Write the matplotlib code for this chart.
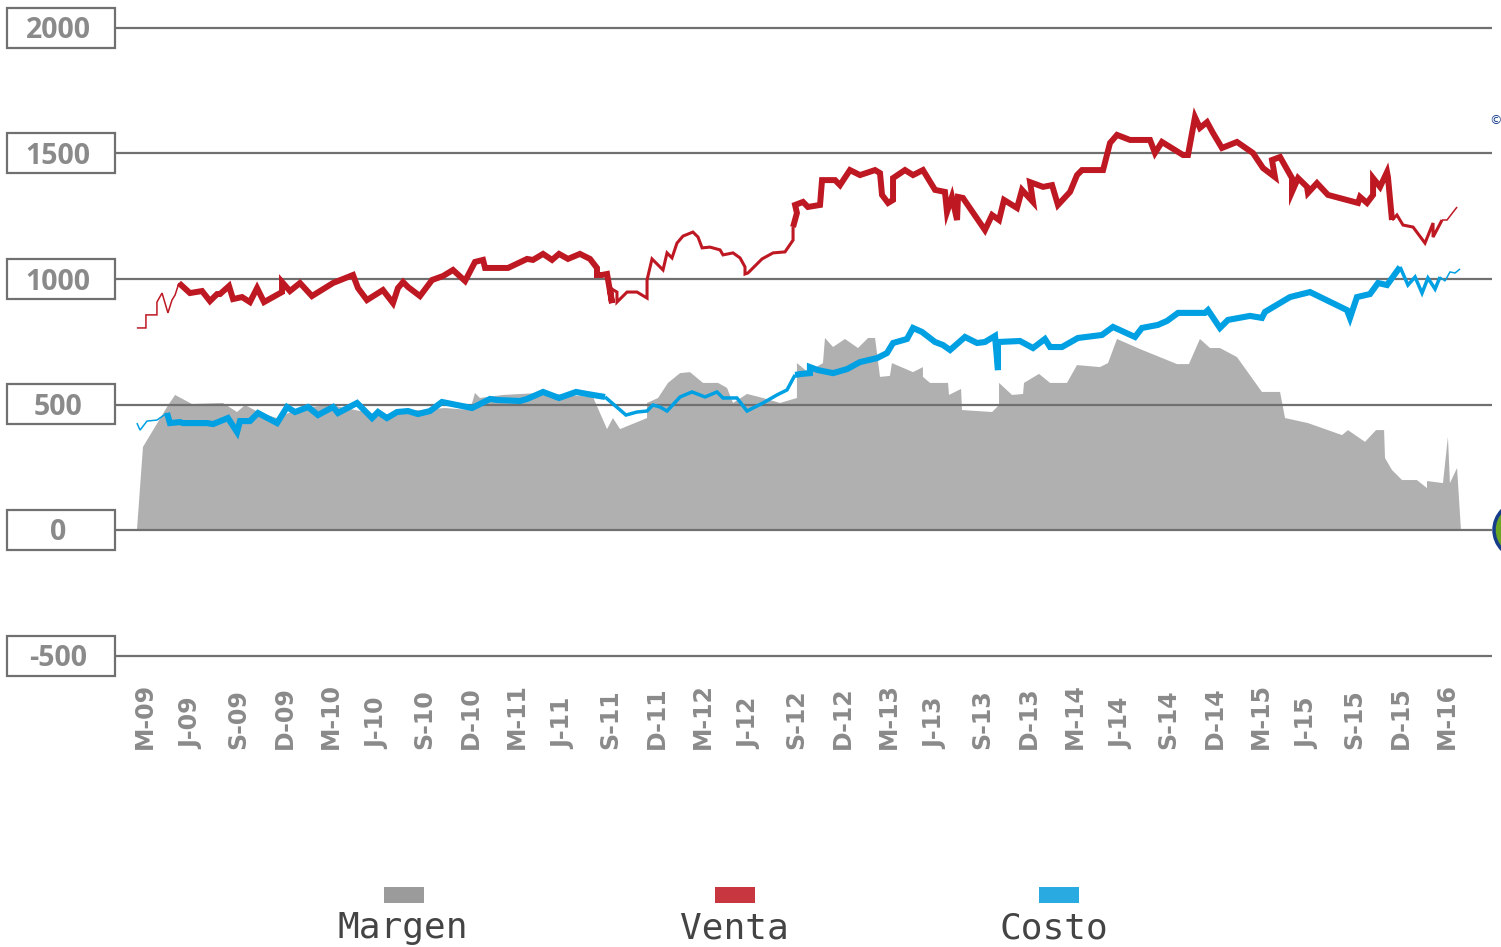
import matplotlib
matplotlib.use("Agg")
import matplotlib.pyplot as plt
from matplotlib.patches import Rectangle, Circle
from matplotlib.transforms import blended_transform_factory, IdentityTransform

# ---------------- data (t = months since March 2009) ----------------
venta_t = [-0.52, 0.06, 0.06, 0.77, 0.77, 1.10, 1.48, 1.74, 1.94, 2.19, 2.90, 3.68, 4.19, 4.65, 4.84,
           5.42, 5.68, 6.26, 6.77, 7.23, 7.68, 8.84, 8.84, 9.35, 10.0, 10.77, 12.13, 13.42, 13.74,
           14.32, 15.35, 16.0, 16.32, 16.65, 16.97, 17.74, 18.52, 19.23, 19.87, 20.65, 21.29, 21.81,
           21.94, 23.42, 24.65, 25.03, 25.68, 26.26, 26.71, 27.29, 28.06, 28.71, 29.16, 29.16, 29.48,
           29.81, 30.13, 30.0, 30.45, 30.45, 31.10, 31.74, 32.39, 32.39, 32.71, 33.42, 33.68, 34.0,
           34.32, 34.71, 35.35, 35.68, 35.94, 36.45, 37.10, 37.29, 37.94, 38.39, 38.71, 38.71, 38.90,
           39.81, 40.52, 41.29, 41.81, 41.81, 42.06, 41.94, 42.45, 42.77, 43.55, 43.68, 44.52, 44.84,
           45.48, 46.13, 47.10, 47.42, 47.55, 47.94, 48.26, 48.26, 49.03, 49.55, 50.19, 50.97, 51.61,
           51.74, 52.06, 52.39, 52.45, 52.77, 54.19, 54.65, 55.10, 55.42, 56.26, 56.58, 57.29, 57.10,
           57.94, 58.52, 58.90, 59.68, 60.13, 60.45, 61.81, 62.26, 62.71, 63.55, 64.84, 65.16, 65.61,
           66.97, 67.29, 67.74, 68.06, 68.52, 68.90, 69.48, 70.45, 71.48, 72.13, 72.90, 72.71, 73.23,
           74.0, 74.0, 74.39, 74.97, 75.03, 75.61, 76.32, 78.26, 78.39, 78.84, 79.23, 79.23, 79.68,
           80.13, 80.19, 80.45, 80.77, 81.16, 81.81, 82.58, 83.10, 83.10, 83.68, 84.0, 84.65]
venta_v = [805, 805, 857, 857, 908, 944, 865, 916, 936, 984, 944, 952, 912, 940, 940,
           972, 920, 928, 908, 964, 908, 948, 988, 952, 984, 932, 984, 1016, 964,
           916, 956, 904, 964, 988, 968, 932, 996, 1012, 1036, 992, 1068, 1076,
           1044, 1044, 1080, 1076, 1100, 1076, 1100, 1080, 1100, 1080, 1044, 1016, 1016,
           1020, 904, 964, 948, 908, 948, 948, 924, 996, 1080, 1036, 1104, 1084,
           1143, 1171, 1187, 1167, 1124, 1127, 1116, 1096, 1104, 1084, 1048, 1020, 1024,
           1080, 1104, 1108, 1155, 1207, 1263, 1295, 1307, 1287, 1295, 1394, 1394, 1374,
           1434, 1414, 1434, 1422, 1335, 1303, 1315, 1402, 1434, 1414, 1434, 1355, 1347,
           1267, 1327, 1235, 1327, 1323, 1195, 1255, 1235, 1315, 1283, 1355, 1307, 1386,
           1367, 1374, 1295, 1347, 1414, 1434, 1434, 1542, 1574, 1554, 1554, 1502, 1546,
           1494, 1494, 1645, 1602, 1625, 1582, 1522, 1546, 1502, 1442, 1406, 1474, 1486,
           1402, 1347, 1402, 1367, 1343, 1382, 1335, 1303, 1327, 1303, 1335, 1402, 1367,
           1426, 1406, 1235, 1255, 1215, 1207, 1143, 1223, 1167, 1235, 1235, 1287]

costo_t = [-0.52, -0.32, 0.13, 0.77, 1.42, 1.61, 2.26, 2.45, 4.0, 4.39, 5.35, 5.94, 6.13, 6.77,
           7.29, 8.52, 9.16, 9.68, 10.52, 11.16, 12.13, 12.45, 13.68, 14.65, 15.03, 15.61, 16.26,
           16.97, 17.61, 18.39, 19.16, 21.10, 22.26, 22.71, 24.19, 24.65, 25.68, 26.71, 27.81,
           28.52, 29.68, 31.03, 31.74, 32.39, 32.77, 33.23, 33.68, 34.52, 35.29, 36.13, 36.90,
           37.29, 38.19, 38.84, 39.87, 40.77, 41.42, 41.94, 42.39, 42.90, 42.90, 43.42, 44.39,
           45.29, 46.13, 47.23, 47.87, 48.26, 49.16, 49.55, 50.13, 50.97, 51.48, 51.94, 52.90,
           53.68, 54.19, 54.84, 55.03, 55.03, 56.45, 57.29, 58.06, 58.39, 59.16, 60.19, 61.74,
           62.45, 63.87, 64.32, 65.35, 65.94, 66.65, 68.39, 68.58, 69.35, 69.87, 71.29, 72.06,
           72.26, 73.87, 75.16, 77.55, 77.74, 78.19, 79.03, 79.55, 80.13, 80.97, 81.48, 81.94,
           82.39, 82.77, 83.23, 83.55, 83.87, 84.19, 84.52, 84.84]
costo_v = [426, 398, 434, 438, 466, 426, 430, 426, 426, 422, 446, 390, 434, 434,
           466, 426, 490, 470, 490, 458, 490, 466, 506, 446, 470, 446, 470,
           474, 462, 474, 510, 486, 522, 518, 514, 522, 550, 526, 550,
           542, 530, 458, 470, 474, 498, 490, 474, 530, 550, 530, 550,
           526, 526, 474, 506, 538, 558, 618, 622, 625, 649, 637, 625,
           641, 669, 685, 705, 745, 761, 805, 789, 749, 737, 717, 769,
           745, 749, 773, 637, 749, 753, 725, 761, 729, 729, 765, 777,
           809, 769, 805, 817, 833, 865, 865, 876, 805, 837, 853, 845,
           869, 928, 948, 876, 845, 928, 940, 984, 976, 1048, 976, 1008,
           944, 1004, 960, 1008, 992, 1028, 1024, 1040]

margen_t = [-0.52, -0.13, 1.42, 1.94, 3.03, 5.03, 5.94, 6.45, 7.42, 8.52, 10.0, 11.94, 13.55,
            15.16, 17.74, 19.35, 20.97, 21.29, 21.61, 23.10, 25.48, 28.90, 29.81, 30.19, 30.65,
            32.39, 32.39, 33.10, 33.74, 34.52, 35.16, 36.0, 36.97, 37.55, 37.94, 38.84, 39.87,
            40.97, 42.06, 42.06, 42.77, 43.74, 43.87, 44.39, 45.16, 46.0, 46.65, 47.10, 47.42,
            48.06, 48.19, 49.55, 50.19, 50.19, 50.65, 51.81, 51.87, 52.65, 52.71, 54.65, 55.10,
            55.10, 55.94, 56.65, 56.71, 57.68, 58.39, 59.48, 60.13, 61.61, 62.13, 62.71, 64.19,
            66.58, 67.35, 68.06, 68.71, 69.35, 70.45, 72.06, 73.23, 73.55, 75.03, 77.23, 77.61,
            78.71, 79.42, 79.94, 80.0, 80.45, 81.10, 82.06, 82.71, 82.71, 83.74, 84.06, 84.19,
            84.65, 84.90]
margen_v = [0, 331, 490, 538, 502, 506, 470, 498, 466, 446, 486, 498, 478,
            458, 478, 486, 478, 546, 526, 538, 546, 530, 402, 446, 402,
            446, 506, 526, 586, 625, 629, 586, 586, 566, 506, 542, 526,
            506, 526, 665, 629, 665, 765, 729, 761, 725, 765, 765, 610,
            614, 665, 629, 649, 610, 586, 586, 538, 562, 478, 470, 498,
            586, 538, 542, 586, 622, 586, 586, 657, 649, 665, 761, 721,
            661, 661, 761, 725, 725, 689, 550, 550, 446, 426, 378, 398,
            351, 398, 398, 287, 239, 199, 199, 167, 195, 187, 371, 187,
            247, 0]

quarter_labels = ["M-09", "J-09", "S-09", "D-09", "M-10", "J-10", "S-10", "D-10",
                  "M-11", "J-11", "S-11", "D-11", "M-12", "J-12", "S-12", "D-12",
                  "M-13", "J-13", "S-13", "D-13", "M-14", "J-14", "S-14", "D-14",
                  "M-15", "J-15", "S-15", "D-15", "M-16"]
y_ticks = [2000, 1500, 1000, 500, 0, -500]
legend_names = ["Margen", "Venta", "Costo"]

# ---------------- figure / pixel mapping ----------------
W, H = 1501, 947
DPI = 100
fig = plt.figure(figsize=(W / DPI, H / DPI), dpi=DPI)
ax = fig.add_axes([0, 0, 1, 1])
ax.set_axis_off()

X0, DX = 145.0, 15.5          # pixel of t=0, pixels per month
Y0, DY = 530.0, 125.5 / 500   # pixel of value 0, pixels per unit


def tx(px):
    return (px - X0) / DX


def vy(py):
    return (Y0 - py) / DY


ax.set_xlim(tx(0), tx(W))
ax.set_ylim(vy(H), vy(0))

GRID = "#707070"
RED = "#BE1823"
BLUE = "#00A0E3"
GREY_AREA = "#B0B0B0"
LABEL_GREY = "#8A8A8A"

# grey area
ax.fill(margen_t, margen_v, color=GREY_AREA, lw=0, zorder=1)

# gridlines
for v in y_ticks:
    ax.plot([tx(115), tx(1492)], [v, v], color=GRID, lw=1.6, zorder=2,
            solid_capstyle="butt")


def draw_variable(ts, vs, color, classes, widths):
    """Draw polyline with width depending on t range."""
    def cls(t):
        for lo, hi, c in classes:
            if lo <= t < hi:
                return c
        return classes[-1][2]
    seg_t, seg_v = [ts[0]], [vs[0]]
    cur = cls((ts[0] + ts[1]) / 2)
    for i in range(1, len(ts)):
        c = cls((ts[i - 1] + ts[i]) / 2)
        if c != cur:
            ax.plot(seg_t, seg_v, color=color, lw=widths[cur], zorder=3,
                    solid_joinstyle="miter", solid_capstyle="butt")
            seg_t, seg_v = [ts[i - 1]], [vs[i - 1]]
            cur = c
        seg_t.append(ts[i])
        seg_v.append(vs[i])
    ax.plot(seg_t, seg_v, color=color, lw=widths[cur], zorder=3,
            solid_joinstyle="miter", solid_capstyle="butt")


inf = 1e9
venta_classes = [(-inf, 2.2, "thin"), (2.2, 30.1, "thick"), (30.1, 41.9, "med"),
                 (41.9, 80.4, "thick"), (80.4, 83.7, "med"), (83.7, inf, "thin")]
costo_classes = [(-inf, 1.5, "thin"), (1.5, 29.8, "thick"), (29.8, 41.9, "med"),
                 (41.9, 80.6, "thick"), (80.6, 83.7, "med"), (83.7, inf, "thin")]
draw_variable(costo_t, costo_v, BLUE, costo_classes, {"thin": 1.1, "med": 2.5, "thick": 4.4})
draw_variable(venta_t, venta_v, RED, venta_classes, {"thin": 1.1, "med": 2.2, "thick": 4.3})

# y labels in boxes
bt = blended_transform_factory(ax.transAxes, ax.transData)
box_h = 40 / DY
for v in y_ticks:
    ax.add_patch(Rectangle((7 / W, v - box_h / 2), 108 / W, box_h, transform=bt,
                           facecolor="white", edgecolor=GRID, lw=1.6, zorder=4))
    ax.text(58 / W, v - 10.5 / DY, str(v), transform=bt, ha="center", va="baseline",
            fontsize=20.5, fontweight="bold", color=LABEL_GREY,
            family=["Open Sans", "DejaVu Sans"], zorder=5)

# x labels
for i, lab in enumerate(quarter_labels):
    ax.text(i * 3, vy(749), lab, rotation=90, ha="center", va="bottom",
            fontsize=17, fontweight="bold", color=LABEL_GREY,
            family="DejaVu Sans", zorder=5)

# legend (manual, squares above names)
leg_colors = ["#9B9B9B", "#C8373F", "#29ABE2"]
leg_sq_x = [404, 735, 1059]
leg_txt_x = [403, 734, 1054]
for name, c, sx, txx in zip(legend_names, leg_colors, leg_sq_x, leg_txt_x):
    ax.add_patch(Rectangle((tx(sx - 20), vy(903)), 40 / DX, 16 / DY,
                           facecolor=c, edgecolor="none", zorder=5))
    ax.text(tx(txx), vy(938), name, ha="center", va="baseline",
            fontsize=26, color="#444444", family="DejaVu Sans Mono", zorder=5)

# logo elements at the right edge
fig.patches.append(Circle((1522, H - 530), 28, transform=IdentityTransform(),
                          facecolor="#6BA524", edgecolor="#163C8C", lw=2.5))
fig.text(1489 / W, 1 - 121 / H, "\u00a9", ha="left", va="center", fontsize=9,
         color="#163C8C")

fig.savefig("out.png", dpi=DPI)
